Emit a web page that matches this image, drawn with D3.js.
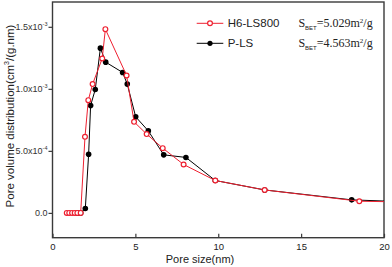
<!DOCTYPE html>
<html><head><meta charset="utf-8">
<script src="https://cdn.jsdelivr.net/npm/d3@7"></script>
<style>body{margin:0;background:#fff}svg{display:block}</style>
</head><body><svg id="c" width="392" height="267"></svg>
<script>
const redX = [0.86,1.01,1.18,1.34,1.50,1.70,1.96,2.16,2.42,3.00,3.19,4.47,4.92,5.68,6.65,7.91,9.82,12.80,18.51,22.0];
const redY = [0,0,0,0,0,0,6.13e-4,9.09e-4,1.038e-3,1.245e-3,1.481e-3,1.108e-3,7.34e-4,6.35e-4,5.22e-4,3.90e-4,2.61e-4,1.85e-4,9.4e-5,8.6e-5];
const blkX = [1.50,1.70,1.98,2.18,2.30,2.58,2.89,3.21,4.23,4.51,5.02,5.78,6.71,8.05,9.82,12.80,18.05,22.0];
const blkY = [0,0,3.5e-5,4.73e-4,8.66e-4,9.95e-4,1.328e-3,1.215e-3,1.132e-3,1.038e-3,7.74e-4,6.61e-4,4.68e-4,4.47e-4,2.61e-4,1.85e-4,1.05e-4,8.6e-5];
const xTicks = [0,5,10,15,20];
const yTicks = [0,5e-4,1e-3,1.5e-3];
const yTickLabels = [["0.0",""],["5.0x10","-4"],["1.0x10","-3"],["1.5x10","-3"]];
const seriesNames = ["H6-LS800","P-LS"];
const sbetValues = ["=5.029m","=4.563m"];

const svg = d3.select("#c");
const L=52.5,R=384,T=2,B=237.7;
const x = d3.scaleLinear().domain([0,20]).range([L,R]);
const y = d3.scaleLinear().domain([-2e-4,1.7e-3]).range([B,T]);
const RED="#ee2030";

svg.append("clipPath").attr("id","clip").append("rect").attr("x",L).attr("y",T).attr("width",R-L).attr("height",B-T);

// frame
svg.append("rect").attr("x",L).attr("y",T).attr("width",R-L).attr("height",B-T)
  .attr("fill","none").attr("stroke","#3a3a3a").attr("stroke-width",1.4);

// x axis ticks (inward)
const xa = svg.append("g").attr("transform",`translate(0,${B})`)
  .call(d3.axisBottom(x).tickValues(xTicks).tickSizeInner(-4).tickSizeOuter(0).tickPadding(6));
xa.select(".domain").remove();
xa.selectAll("line").attr("stroke","#3a3a3a").attr("stroke-width",1.2);
xa.selectAll("text").attr("font-family","Liberation Sans, Arial, sans-serif").attr("font-size","9.5px").attr("fill","#222");

// y axis (outward ticks)
const ya = svg.append("g").attr("transform",`translate(${L},0)`)
  .call(d3.axisLeft(y).tickValues(yTicks).tickSize(4).tickFormat(""));
ya.select(".domain").remove();
ya.selectAll("line").attr("stroke","#3a3a3a").attr("stroke-width",1.2);
yTicks.forEach((v,i)=>{
  const t = svg.append("text").attr("x",L-5).attr("y",y(v)+3.3).attr("text-anchor","end")
    .attr("font-family","Liberation Sans, Arial, sans-serif").attr("font-size","9px").attr("fill","#333");
  t.append("tspan").text(yTickLabels[i][0]);
  if(yTickLabels[i][1]) t.append("tspan").attr("font-size","5.5px").attr("dy","-4.5").text(yTickLabels[i][1]);
});

// axis titles
svg.append("text").attr("x",200).attr("y",263).attr("text-anchor","middle")
  .attr("font-family","Liberation Sans, Arial, sans-serif").attr("font-size","11px").attr("fill","#222").text("Pore size(nm)");
const yl = svg.append("text").attr("transform","translate(13.5,116) rotate(-90)").attr("text-anchor","middle")
  .attr("font-family","Liberation Sans, Arial, sans-serif").attr("font-size","11.5px").attr("fill","#222");
yl.append("tspan").text("Pore volume distribution(cm");
yl.append("tspan").attr("font-size","7px").attr("dy","-5").text("3");
yl.append("tspan").attr("dy","5").text("/(g.nm)");

// series
const g = svg.append("g").attr("clip-path","url(#clip)");
const line = d3.line().x(d=>x(d[0])).y(d=>y(d[1]));
const blk = d3.zip(blkX,blkY), red = d3.zip(redX,redY);
g.append("path").datum(blk).attr("d",line).attr("fill","none").attr("stroke","#000").attr("stroke-width",1);
g.selectAll(".b").data(blk).enter().append("circle").attr("cx",d=>x(d[0])).attr("cy",d=>y(d[1])).attr("r",2.8).attr("fill","#000");
g.append("path").datum(red).attr("d",line).attr("fill","none").attr("stroke",RED).attr("stroke-width",1);
g.selectAll(".r").data(red).enter().append("circle").attr("cx",d=>x(d[0])).attr("cy",d=>y(d[1])).attr("r",2.4).attr("fill","#fff").attr("stroke",RED).attr("stroke-width",1.2);

// legend
const ly=[23.3,43.3], cols=[RED,"#000"];
[0,1].forEach(i=>{
  svg.append("line").attr("x1",196.7).attr("x2",223.3).attr("y1",ly[i]).attr("y2",ly[i]).attr("stroke",cols[i]).attr("stroke-width",1);
  if(i===0) svg.append("circle").attr("cx",210).attr("cy",ly[i]).attr("r",2.4).attr("fill","#fff").attr("stroke",RED).attr("stroke-width",1.2);
  else svg.append("circle").attr("cx",210).attr("cy",ly[i]).attr("r",2.6).attr("fill","#000");
  svg.append("text").attr("x",227.7).attr("y",ly[i]+4).attr("font-family","Liberation Sans, Arial, sans-serif").attr("font-size","11.5px").attr("fill","#222").text(seriesNames[i]);
  const t = svg.append("text").attr("x",372.7).attr("y",ly[i]+4).attr("text-anchor","end")
    .attr("font-family","Liberation Serif, Times New Roman, serif").attr("font-size","12px").attr("fill","#222");
  t.append("tspan").text("S");
  t.append("tspan").attr("font-size","6px").attr("dy","2.5").attr("font-family","Liberation Sans, Arial, sans-serif").text("BET");
  t.append("tspan").attr("dy","-2.5").text(sbetValues[i]);
  t.append("tspan").attr("font-size","7px").attr("dy","-4.5").text("2");
  t.append("tspan").attr("dy","4.5").text("/g");
});
</script></body></html>
